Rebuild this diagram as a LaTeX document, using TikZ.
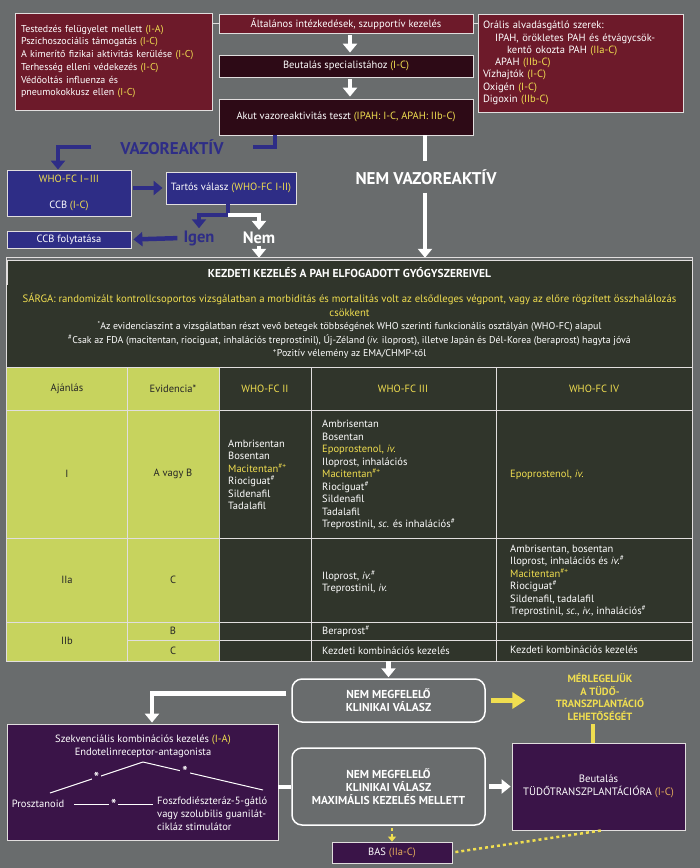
\documentclass[tikz,border=0pt]{standalone}
\usepackage{fontspec}
\setmainfont{PT Sans}
\usepackage{xcolor}
\usepackage{tikz}
\usetikzlibrary{positioning, calc, arrows.meta}
\definecolor{bggray}{RGB}{105,108,109}
\definecolor{maroon}{RGB}{109,26,42}
\definecolor{darkmaroon}{RGB}{45,10,22}
\definecolor{vblue}{RGB}{46,45,134}
\definecolor{tabdark}{RGB}{48,53,43}
\definecolor{lime}{RGB}{199,211,94}
\definecolor{ylw}{RGB}{240,222,80}
\definecolor{orn}{RGB}{226,172,92}
\definecolor{purp}{RGB}{58,20,72}
\definecolor{boxline}{RGB}{225,222,222}
\newcommand{\yl}[1]{\textcolor{ylw}{#1}}
\newcommand{\orn}[1]{\textcolor{orn}{#1}}

\begin{document}
\begin{tikzpicture}[x=1pt, y=-1pt, font=\fontsize{10.5}{12.7}\selectfont,
    box/.style={draw=boxline, line width=0.8pt, text=white, inner sep=0pt, align=center},
    redbox/.style={box, fill=maroon},
    darkbox/.style={box, fill=darkmaroon},
    bluebox/.style={box, fill=vblue},
    purpbox/.style={box, fill=purp},
    roundbox/.style={draw=white, line width=1.5pt, rounded corners=10pt, text=white, align=center,
        inner sep=0pt, font=\fontsize{11.5}{13}\selectfont\bfseries},
    wharr/.style={white, line width=4.5pt, -{Triangle[width=14pt,length=9pt]}},
    whline/.style={white, line width=4.5pt},
    bluarr/.style={vblue, line width=4.5pt, -{Triangle[width=14pt,length=9pt]}},
    bluline/.style={vblue, line width=4.5pt},
    ylarr/.style={ylw, line width=5pt, -{Triangle[width=16pt,length=13pt]}},
    yldot/.style={ylw, line width=2.5pt, dash pattern=on 3pt off 3pt},
    grid/.style={boxline, line width=1pt},
    cell/.style={text=white, font=\fontsize{10.5}{12.5}\selectfont, align=left, inner sep=0pt},
    limecell/.style={text=black!85, font=\fontsize{10.5}{12.5}\selectfont, inner sep=0pt},
    bigtxt/.style={font=\fontsize{17}{17}\selectfont\bfseries, inner ysep=8pt},
    starlbl/.style={fill=purp, text=white, inner sep=2pt, font=\fontsize{14}{14}\selectfont\bfseries}]
    \useasboundingbox[fill=bggray] (0,0) rectangle (700,868);
    % General measures
    \node[redbox, minimum width=197pt, minimum height=97pt, text width=185pt, inner xsep=6pt, align=left,
        font=\fontsize{10}{12.7}\selectfont]
        (genbox) at (113.5,61.5) {Testedzés felügyelet mellett \yl{(I-A)}\\
        Pszichoszociális támogatás \yl{(I-C)}\\
        A kimerítő fizikai aktivitás kerülése \yl{(I-C)}\\
        Terhesség elleni védekezés \yl{(I-C)}\\
        Védőoltás influenza és\\
        pneumokokkusz ellen \yl{(I-C)}};
    \node[redbox, minimum width=254pt, minimum height=19pt] (alt) at (346,23.5)
        {Általános intézkedések, szupportív kezelés};
    \node[redbox, minimum width=205pt, minimum height=98pt, text width=195pt, inner xsep=5pt, align=left,
        font=\fontsize{10.5}{12.3}\selectfont]
        (orbox) at (580.5,63) {Orális alvadásgátló szerek:\\
        \hspace*{12pt}IPAH, örökletes PAH és étvágycsök-\\
        \hspace*{24pt}kentő okozta PAH \yl{(IIa-C)}\\
        \hspace*{12pt}APAH \yl{(IIb-C)}\\
        Vízhajtók \yl{(I-C)}\\
        Oxigén \yl{(I-C)}\\
        Digoxin \yl{(IIb-C)}};
    \draw[boxline, line width=0.8pt] (alt.west -| genbox.east) -- (alt.west);
    \draw[boxline, line width=0.8pt] (alt.east) -- (alt.east -| orbox.west);
    \node[darkbox, minimum width=254pt, minimum height=22pt] (refer) at (346,66)
        {Beutalás specialistához \yl{(I-C)}};
    \node[darkbox, minimum width=254pt, minimum height=36pt] (akut) at (346,117)
        {Akut vazoreaktivitás teszt \yl{(IPAH: I-C, APAH: IIb-C)}};
    \draw[wharr, shorten <=2pt, shorten >=2pt] (alt.south -| 350,0) -- (refer.north -| 350,0);
    \draw[wharr, shorten <=2pt, shorten >=2pt] (refer.south -| 350,0) -- (akut.north -| 350,0);
    % Vasoreactive branch
    \node[bigtxt, text=vblue, inner xsep=29pt] (vazo) at (172,147) {VAZOREAKTÍV};
    \draw[bluline] (akut.south -| 275,0) |- (vazo.east);
    \node[bluebox, minimum width=124pt, minimum height=46pt] (whofc) at (69,193)
        {\yl{WHO-FC I–III}\\[12.5pt]CCB \yl{(I-C)}};
    \draw[bluarr] (vazo.west) -| (whofc.north -| 58,0);
    \node[bluebox, minimum width=130pt, minimum height=32pt] (tartos) at (231,188)
        {Tartós válasz \yl{(WHO-FC I-II)}};
    \draw[bluarr, shorten <=2pt, shorten >=3pt] (whofc.east |- tartos.west) -- (tartos.west);
    \node[bluebox, minimum width=124pt, minimum height=17pt] (ccbf) at (69,239.5) {CCB folytatása};
    \node[font=\fontsize{16.5}{16.5}\selectfont\bfseries, text=vblue, inner sep=2pt] (igen) at (199,238) {Igen};
    \node[font=\fontsize{16.5}{16.5}\selectfont\bfseries, text=white, inner sep=2pt] (nem) at (259,238) {Nem};
    \coordinate (split) at (228,215);
    \draw[bluline] (tartos.south -| split) -- (split);
    \draw[bluarr] (split) -| (igen.north);
    \draw[wharr] (split) -| (nem.north);
    \draw[bluarr, shorten <=4pt, shorten >=2pt] (igen.west) -- (ccbf.east);
    % Non-vasoreactive branch
    \node[bigtxt, text=white] (nemv) at (426,177) {NEM VAZOREAKTÍV};
    \node[minimum width=685pt, minimum height=403pt, inner sep=0pt] (tab) at (349.5,459.5) {};
    \draw[whline] (akut.south -| 425,0) -- (nemv.north -| 425,0);
    \draw[wharr] (nemv.south -| 425,0) -- (tab.north -| 425,0);
    \draw[wharr] (nem.south) -- (tab.north -| nem.south);
    % Table
    \node[box, fill=tabdark, minimum width=685pt, minimum height=25pt, font=\fontsize{11.5}{12}\selectfont\bfseries]
        (kezdeti) at (349.5,272.5) {KEZDETI KEZELÉS A PAH ELFOGADOTT GYÓGYSZEREIVEL};
    \fill[tabdark] (7,285) rectangle (692,661);
    \fill[lime] (7,367) rectangle (219,661);
    \node[text=ylw, align=center, font=\fontsize{10.7}{14}\selectfont] (sarga) at (349.5,305)
        {SÁRGA: randomizált kontrollcsoportos vizsgálatban a morbiditás és mortalitás volt az elsődleges végpont, vagy az előre rögzített összhalálozás\\csökkent};
    \node[text=white, align=center, font=\fontsize{9.9}{13.5}\selectfont] (notes) at (349.5,340)
        {\textsuperscript{*}Az evidenciaszint a vizsgálatban részt vevő betegek többségének WHO szerinti funkcionális osztályán (WHO-FC) alapul\\
        \textsuperscript{\#}Csak az FDA (macitentan, riociguat, inhalációs treprostinil), Új-Zéland (\textit{iv.} iloprost), illetve Japán és Dél-Korea (beraprost) hagyta jóvá\\
        \textsuperscript{+}Pozitív vélemény az EMA/CHMP-től};
    \foreach \y in {367,410,538,622} \draw[grid] (7,\y) -- (692,\y);
    \draw[grid] (127,640) -- (692,640);
    \foreach \x in {127,219,311,496} \draw[grid] (\x,367) -- (\x,661);
    \draw[grid] (tab.north west) rectangle (tab.south east);
    % Table header row
    \node[limecell] (ajan) at (67,389) {Ajánlás};
    \node[limecell] (evid) at (173,389) {Evidencia*};
    \node[cell, text=ylw] (fc2) at (265,389) {WHO-FC II};
    \node[cell, text=ylw] (fc3) at (403,389) {WHO-FC III};
    \node[cell, text=ylw] (fc4) at (594,389) {WHO-FC IV};
    % Row I
    \node[limecell] (r1a) at (67,474) {I};
    \node[limecell] (r1e) at (173,474) {A vagy B};
    \node[cell, anchor=west] (r1c2) at (228,475) {Ambrisentan\\Bosentan\\\yl{Macitentan\textsuperscript{\#+}}\\Riociguat\textsuperscript{\#}\\Sildenafil\\Tadalafil};
    \node[cell, anchor=west] (r1c3) at (322,475) {Ambrisentan\\Bosentan\\\yl{Epoprostenol, \textit{iv.}}\\Iloprost, inhalációs\\\yl{Macitentan\textsuperscript{\#+}}\\Riociguat\textsuperscript{\#}\\Sildenafil\\Tadalafil\\Treprostinil, \textit{sc.} és inhalációs\textsuperscript{\#}};
    \node[cell, anchor=west] (r1c4) at (510,475) {\yl{Epoprostenol, \textit{iv.}}};
    % Row IIa
    \node[limecell] (r2a) at (67,580) {IIa};
    \node[limecell] (r2e) at (173,580) {C};
    \node[cell, anchor=west] (r2c3) at (322,582) {Iloprost, \textit{iv.}\textsuperscript{\#}\\Treprostinil, \textit{iv.}};
    \node[cell, anchor=west] (r2c4) at (510,581) {Ambrisentan, bosentan\\Iloprost, inhalációs és \textit{iv.}\textsuperscript{\#}\\\yl{Macitentan\textsuperscript{\#+}}\\Riociguat\textsuperscript{\#}\\Sildenafil, tadalafil\\Treprostinil, \textit{sc.}, \textit{iv.}, inhalációs\textsuperscript{\#}};
    % Row IIb
    \node[limecell] (r3a) at (67,641) {IIb};
    \node[limecell] (r3b) at (173,631) {B};
    \node[limecell] (r3c) at (173,650.5) {C};
    \node[cell, anchor=west] (r3c3) at (322,631) {Beraprost\textsuperscript{\#}};
    \node[cell, anchor=west] (r4c3) at (322,651) {Kezdeti kombinációs kezelés};
    \node[cell, anchor=west] (r4c4) at (510,650) {Kezdeti kombinációs kezelés};
    % Inadequate response
    \node[roundbox, minimum width=193pt, minimum height=43pt] (nemk1) at (388.5,700.5)
        {NEM MEGFELELŐ\\KLINIKAI VÁLASZ};
    \draw[wharr, shorten >=1pt] (tab.south -| nemk1.north) -- (nemk1.north);
    \node[roundbox, minimum width=193pt, minimum height=77pt] (nemk2) at (388.5,786.5)
        {NEM MEGFELELŐ\\KLINIKAI VÁLASZ\\MAXIMÁLIS KEZELÉS MELLETT};
    \node[purpbox, minimum width=271pt, minimum height=116pt] (seq) at (142.5,782) {};
    \draw[wharr, shorten <=5pt, shorten >=1pt] ([yshift=7pt]nemk1.west) -| (seq.north -| 152,0);
    \draw[whline, line width=4pt] (seq.east |- nemk2.west) -- (nemk2.west);
    % Sequential combination
    \node[text=white, align=center] (seqtxt) at (143,746)
        {Szekvenciális kombinációs kezelés \yl{(I-A)}\\Endotelinreceptor-antagonista};
    \coordinate (apex) at (143,762);
    \node[text=white, inner sep=0pt] (prosz) at (38,804) {Prosztanoid};
    \node[text=white, anchor=north west, align=left, inner sep=0pt] (fosz) at (157,797)
        {Foszfodiészteráz-5-gátló\\vagy szolubilis guanilát-\\cikláz stimulátor};
    \draw[white, line width=1pt] (apex) -- node[starlbl] {\raisebox{-4pt}{*}} (50,793);
    \draw[white, line width=1pt] (apex) -- node[starlbl, pos=0.35] {\raisebox{-4pt}{*}} (263,790);
    \draw[white, line width=1pt] ([xshift=10pt]prosz.east) -- node[starlbl] {\raisebox{-4pt}{*}} (153,804);
    % Lung transplantation
    \node[text=ylw, align=center, font=\fontsize{10.5}{12.5}\selectfont\bfseries] (merleg) at (600,697)
        {MÉRLEGELJÜK\\A TÜDŐ-\\TRANSZPLANTÁCIÓ\\LEHETŐSÉGÉT};
    \draw[ylarr, shorten <=5pt, shorten >=27pt] (nemk1.east) -- (merleg.west |- nemk1.east);
    \node[purpbox, minimum width=173pt, minimum height=87pt, font=\fontsize{10.7}{13}\selectfont] (ttx) at (598.5,786.5)
        {Beutalás\\TÜDŐTRANSZPLANTÁCIÓRA \orn{(I-C)}};
    \draw[ylw, line width=4pt] (merleg.south -| 593,0) -- (ttx.north -| 593,0);
    \draw[wharr, shorten <=3pt, shorten >=1pt] (nemk2.east) -- (ttx.west |- nemk2.east);
    % Atrial septostomy
    \node[purpbox, minimum width=120pt, minimum height=21pt] (bas) at (392,852.5) {BAS \orn{(IIa-C)}};
    \draw[yldot, -{Triangle[width=8pt,length=5pt]}, shorten <=2pt] (nemk2.south -| bas.north) -- (bas.north);
    \draw[yldot, shorten <=3pt] (bas.east) -- ([xshift=3.5pt]ttx.south);
\end{tikzpicture}
\end{document}
